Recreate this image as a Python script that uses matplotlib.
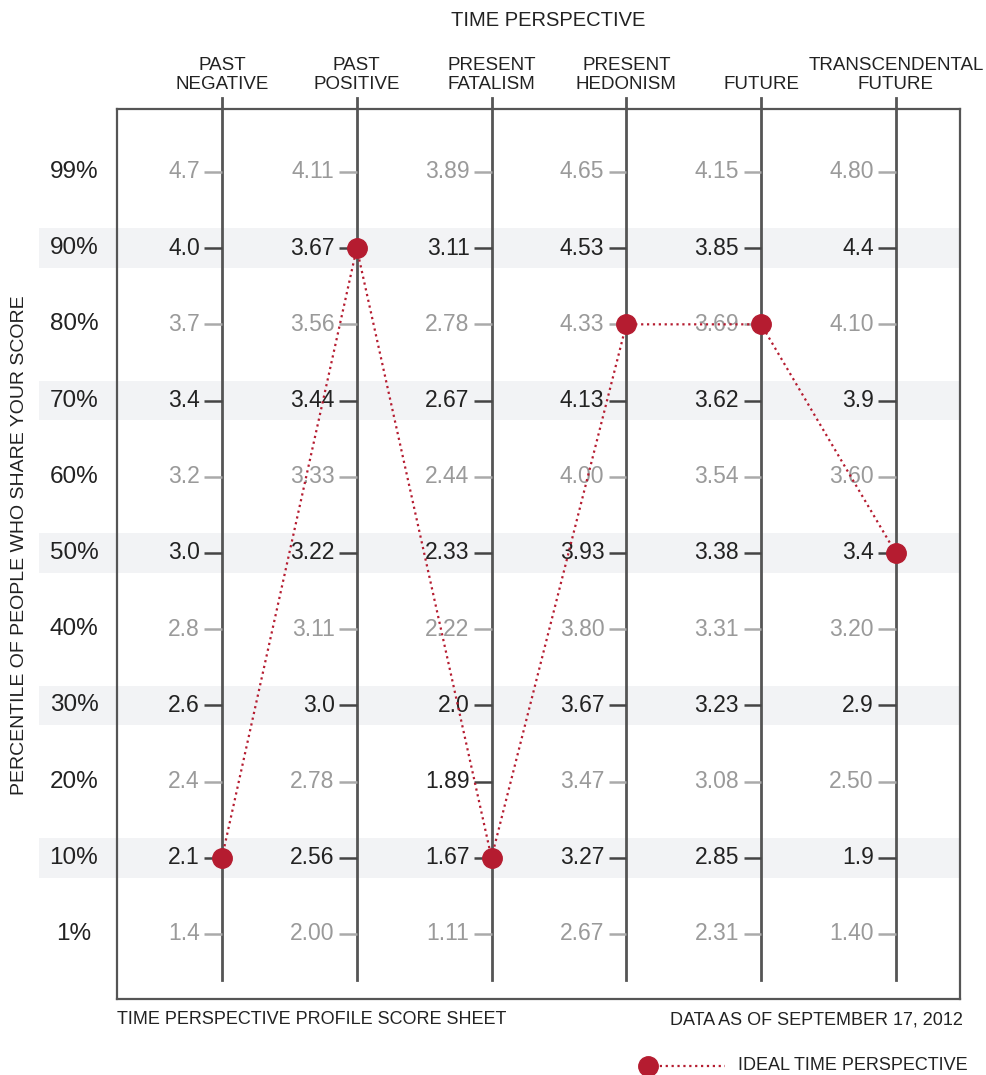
import matplotlib
matplotlib.use("Agg")
import matplotlib.pyplot as plt

plt.rcParams['font.family'] = ['Liberation Sans', 'DejaVu Sans']

# Data
perspectives = ["PAST\nNEGATIVE", "PAST\nPOSITIVE", "PRESENT\nFATALISM",
                "PRESENT\nHEDONISM", "FUTURE", "TRANSCENDENTAL\nFUTURE"]
percentiles = ["99%", "90%", "80%", "70%", "60%", "50%", "40%", "30%", "20%", "10%", "1%"]

past_negative = ["4.7", "4.0", "3.7", "3.4", "3.2", "3.0", "2.8", "2.6", "2.4", "2.1", "1.4"]
past_positive = ["4.11", "3.67", "3.56", "3.44", "3.33", "3.22", "3.11", "3.0", "2.78", "2.56", "2.00"]
present_fatalism = ["3.89", "3.11", "2.78", "2.67", "2.44", "2.33", "2.22", "2.0", "1.89", "1.67", "1.11"]
present_hedonism = ["4.65", "4.53", "4.33", "4.13", "4.00", "3.93", "3.80", "3.67", "3.47", "3.27", "2.67"]
future = ["4.15", "3.85", "3.69", "3.62", "3.54", "3.38", "3.31", "3.23", "3.08", "2.85", "2.31"]
transcendental_future = ["4.80", "4.4", "4.10", "3.9", "3.60", "3.4", "3.20", "2.9", "2.50", "1.9", "1.40"]
scores = [past_negative, past_positive, present_fatalism,
          present_hedonism, future, transcendental_future]

# highlighted percentile rows (shaded) and extra dark cells
shaded_rows = ["90%", "70%", "50%", "30%", "10%"]
dark_cells = [("PRESENT\nFATALISM", "20%")]

# ideal time perspective (percentile per perspective)
ideal = ["10%", "90%", "10%", "80%", "80%", "50%"]

RED = "#b51c30"
DARK = "#222222"
GREY = "#9a9a9a"
LINE = "#555555"
BAND = "#f2f3f5"


def main():
    fig = plt.figure(figsize=(9.87, 10.75), dpi=100)
    ax = fig.add_axes([0.1185, 0.0707, 0.854, 0.828])

    n_cols = len(perspectives)
    row_idx = {p: i for i, p in enumerate(percentiles)}

    ax.set_xlim(-0.779, 5.475)
    ax.set_ylim(10.853, -0.827)
    ax.set_xticks([])
    ax.set_yticks([])
    for s in ax.spines.values():
        s.set_color(LINE)
        s.set_linewidth(1.6)

    # shaded bands
    for p in shaded_rows:
        r = row_idx[p]
        ax.axhspan(r - 0.26, r + 0.26, xmin=-0.092, xmax=1.0,
                   color=BAND, zorder=0, clip_on=False, lw=0)

    # percentile labels on the left
    for p in percentiles:
        ax.text(-0.051, row_idx[p], p, transform=ax.get_yaxis_transform(),
                ha="center", va="center", fontsize=17.5, color=DARK)

    # vertical axis for each perspective
    for i, name in enumerate(perspectives):
        ax.plot([i, i], [-0.97, 10.6], color=LINE, lw=2, zorder=2, clip_on=False)
        ax.text(i, -1.04, name, ha="center", va="bottom", fontsize=13.5,
                color=DARK, linespacing=1.15, clip_on=False)
        for r, val in enumerate(scores[i]):
            dark = percentiles[r] in shaded_rows or (name, percentiles[r]) in dark_cells
            c = DARK if dark else GREY
            tc = "#444444" if dark else "#aaaaaa"
            ax.hlines(r, i - 0.13, i, color=tc, lw=1.8, zorder=2)
            ax.annotate(val, (i, r), xytext=(-22, 0), textcoords="offset pixels",
                        ha="right", va="center", fontsize=16.5, color=c, zorder=3)

    # ideal profile line
    ideal_rows = [row_idx[p] for p in ideal]
    ax.plot(range(n_cols), ideal_rows, linestyle=":", color=RED, lw=1.6,
            marker="o", markersize=14, markerfacecolor=RED,
            markeredgecolor=RED, zorder=4)

    # titles and footers
    fig.text(548 / 987, 1 - 20 / 1075, "TIME PERSPECTIVE", ha="center", va="center",
             fontsize=14.5, color=DARK)
    fig.text(20 / 987, 1 - 545 / 1075, "PERCENTILE OF PEOPLE WHO SHARE YOUR SCORE",
             rotation=90, ha="center", va="center", fontsize=14, color=DARK)
    fig.text(117 / 987, 1 - 1020 / 1075, "TIME PERSPECTIVE PROFILE SCORE SHEET",
             ha="left", va="center", fontsize=13, color=DARK)
    fig.text(963 / 987, 1 - 1020 / 1075, "DATA AS OF SEPTEMBER 17, 2012",
             ha="right", va="center", fontsize=13, color=DARK)

    # legend
    ly = 1 - 1066 / 1075
    fig.add_artist(plt.Line2D([648 / 987, 725 / 987], [ly, ly], transform=fig.transFigure,
                              linestyle=":", color=RED, lw=1.6))
    fig.add_artist(plt.Line2D([648 / 987], [ly], transform=fig.transFigure,
                              marker="o", markersize=14, color=RED))
    fig.text(738 / 987, ly, "IDEAL TIME PERSPECTIVE", ha="left", va="center",
             fontsize=13, color=DARK)

    fig.savefig("out.png", dpi=100, facecolor="white")


if __name__ == "__main__":
    main()
